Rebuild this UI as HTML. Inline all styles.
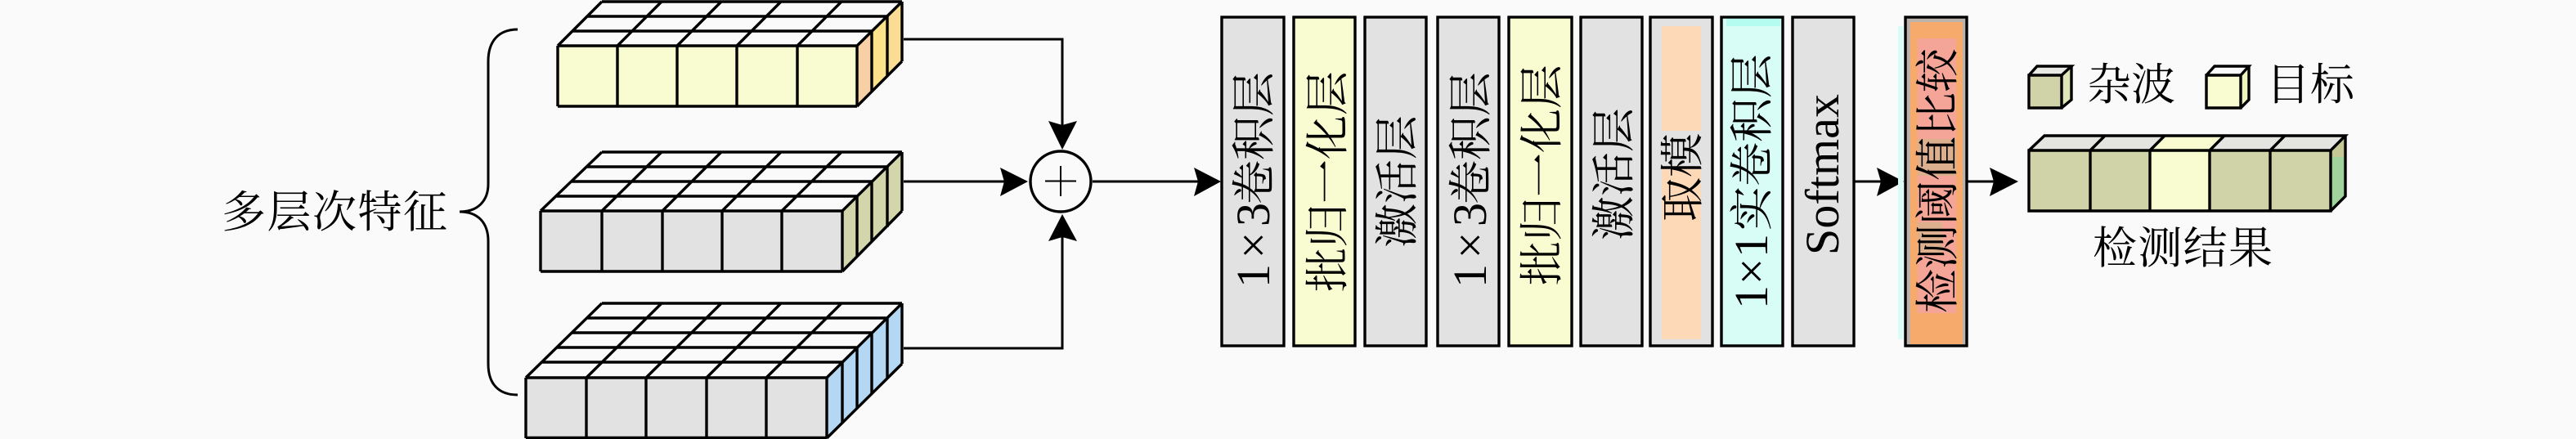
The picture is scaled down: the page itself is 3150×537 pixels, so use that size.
<!DOCTYPE html>
<html>
<head>
<meta charset="utf-8">
<style>
html,body{margin:0;padding:0;background:#fafafa;}
svg{display:block;}
text{fill:#000;}
.c{font-family:"Liberation Serif","Noto Serif CJK SC",serif;font-size:54px;}
.l{font-family:"Liberation Serif",serif;font-size:58px;}
.s{fill:none;stroke:#000;stroke-width:3.4;}
.t{fill:none;stroke:#000;stroke-width:3;}
</style>
</head>
<body>
<svg width="3150" height="537" viewBox="0 0 3150 537" xmlns="http://www.w3.org/2000/svg">
<rect width="3150" height="537" fill="#fafafa"/>

<!-- brace + label -->
<path class="t" d="M633,36 C610,36 597,50 597,75 L597,225 C597,245 585,259 562,259 C585,259 597,273 597,295 L597,445 C597,470 610,483 633,483"/>
<text class="c" x="271" y="278" textLength="276">多层次特征</text>

<!-- block 1 -->
<rect x="682" y="56" width="366" height="74" fill="#f8fcd0"/>
<polygon points="1048,56 1066,38 1066,112 1048,130" fill="#f8d0a6"/>
<polygon points="1066,38 1085,20 1085,94 1066,112" fill="#fde28c"/>
<polygon points="1085,20 1103,2 1103,75 1085,94" fill="#fbdc94"/>
<path class="s" d="M736,2H1103 M718,20H1085 M700,38H1066 M682,56H1048 M682,130H1048 M682,56V130 M755,56V130 M828,56V130 M901,56V130 M975,56V130 M1048,56V130 M682,56L736,2 M755,56L809,2 M828,56L882,2 M901,56L955,2 M975,56L1029,2 M1048,56L1103,2 M1048,130L1103,75 M1103,2V75 M1066,38V112 M1085,20V94"/>

<!-- block 2 -->
<rect x="661" y="258" width="369" height="74" fill="#e2e2e2"/>
<polygon points="1030,258 1103,186 1103,258 1030,332" fill="#d3d6aa"/>
<path class="s" d="M736,186H1103 M718,204H1085 M699,222H1066 M680,240H1048 M661,258H1030 M661,332H1030 M661,258V332 M736,258V332 M810,258V332 M883,258V332 M956,258V332 M1030,258V332 M661,258L736,186 M736,258L809,186 M810,258L882,186 M883,258L955,186 M956,258L1029,186 M1030,258L1103,186 M1030,332L1103,258 M1103,186V258 M1048,240V314 M1066,222V296 M1085,204V278"/>

<!-- block 3 -->
<rect x="643" y="462" width="368" height="74" fill="#e2e2e2"/>
<polygon points="1011,462 1103,371 1103,445 1011,536" fill="#b4d8f3"/>
<path class="s" d="M736,371H1103 M717,389H1085 M699,407H1066 M680,425H1048 M662,443H1030 M643,462H1011 M643,535.5H1011 M643,462V536 M717,462V536 M790,462V536 M864,462V536 M937,462V536 M1011,462V536 M643,462L736,371 M717,462L809,371 M790,462L882,371 M864,462L955,371 M937,462L1029,371 M1011,462L1103,371 M1011,536L1103,445 M1103,371V445 M1030,443V517 M1048,425V499 M1066,407V481 M1085,389V463"/>

<!-- connectors -->
<path class="t" d="M1105,48H1299V160 M1105,222H1232 M1336,222H1470 M1105,426H1299V285 M2267,222H2305 M2405,222H2445"/>
<circle cx="1297" cy="222" r="37" fill="#fafafa" stroke="#000" stroke-width="3.4"/>
<path d="M1278,221.500H1316 M1297,203V240" stroke="#000" stroke-width="2" fill="none"/>

<!-- arrowheads -->
<polygon points="1299,183 1282,148 1299,153 1317,148" fill="#000"/>
<polygon points="1257,222 1223,205 1228,222 1223,240" fill="#000"/>
<polygon points="1299,262 1282,295 1299,290 1317,295" fill="#000"/>
<polygon points="1493,222 1460,205 1465,222 1460,240" fill="#000"/>
<polygon points="2328,222 2295,205 2300,222 2295,240" fill="#000"/>
<polygon points="2468,222 2433,205 2438,222 2433,240" fill="#000"/>

<!-- bars -->
<g stroke="#000" stroke-width="3.4">
<rect x="1494" y="21" width="76" height="402" fill="#e2e2e2"/>
<rect x="1582" y="21" width="75" height="402" fill="#f8fcd0"/>
<rect x="1669" y="21" width="75" height="402" fill="#e2e2e2"/>
<rect x="1758" y="21" width="75" height="402" fill="#e2e2e2"/>
<rect x="1845" y="21" width="77" height="402" fill="#f8fcd0"/>
<rect x="1933" y="21" width="75" height="402" fill="#e2e2e2"/>
<rect x="2018" y="21" width="76" height="402" fill="#e2e2e2"/>
<rect x="2105" y="21" width="75" height="402" fill="#d8fdf6"/>
<rect x="2192" y="21" width="75" height="402" fill="#e2e2e2"/>
<rect x="2330" y="21" width="75" height="402" fill="#bdb3ad"/>
</g>
<rect x="2032" y="32" width="48" height="383" fill="#fdd9b8"/>
<rect x="2032" y="160" width="56" height="47" fill="#e2e2e2"/>
<rect x="2111" y="23" width="66" height="9" fill="#b4fcf0"/>
<rect x="2321" y="32" width="6" height="383" fill="#d8fdf6"/>
<rect x="2336" y="27" width="64" height="394" fill="#f6aa6b"/>
<rect x="2345" y="47" width="47" height="336" fill="#f5a598"/>
<rect x="2345" y="170" width="47" height="45" fill="#dcb08e"/>
<rect x="2345" y="272" width="30" height="40" fill="#dcb08e"/>

<!-- bar labels -->
<text class="l" transform="translate(1552,352) rotate(-90)" textLength="104">1×3</text>
<text class="c" transform="translate(1552,250) rotate(-90)">卷积层</text>
<text class="c" transform="translate(1642,357) rotate(-90)">批归一化层</text>
<text class="c" transform="translate(1727,303) rotate(-90)">激活层</text>
<text class="l" transform="translate(1817,352) rotate(-90)" textLength="104">1×3</text>
<text class="c" transform="translate(1817,250) rotate(-90)">卷积层</text>
<text class="c" transform="translate(1904,349) rotate(-90)">批归一化层</text>
<text class="c" transform="translate(1992,294) rotate(-90)">激活层</text>
<text class="c" transform="translate(2076,271) rotate(-90)">取模</text>
<text class="l" transform="translate(2161,378) rotate(-90)" textLength="92">1×1</text>
<text class="c" transform="translate(2161,282) rotate(-90)">实卷积层</text>
<text class="l" transform="translate(2248,312) rotate(-90)" textLength="197">Softmax</text>
<text class="c" transform="translate(2388,383) rotate(-90)">检测阈值比较</text>

<!-- legend -->
<polygon points="2481,92 2491,81 2533,81 2521,92" fill="#e8e8e4"/>
<rect x="2481" y="92" width="40" height="40" fill="#d0d3a8"/>
<polygon points="2521,92 2533,81 2533,122 2521,132" fill="#dfe5b8"/>
<path class="s" d="M2481,92H2521V132H2481Z M2481,92L2491,81H2533L2521,92 M2533,81V122L2521,132"/>
<polygon points="2698,92 2708,81 2750,81 2740,92" fill="#fafafa"/>
<rect x="2698" y="92" width="42" height="40" fill="#f8fcd0"/>
<polygon points="2740,92 2750,81 2750,122 2740,132" fill="#f0f5c0"/>
<path class="s" d="M2698,92H2740V132H2698Z M2698,92L2708,81H2750L2740,92 M2750,81V122L2740,132"/>
<text class="c" x="2552" y="122" textLength="108">杂波</text>
<text class="c" x="2771" y="122" textLength="108">目标</text>

<!-- result -->
<polygon points="2481,184 2500,166 2868,166 2850,184" fill="#e4e4e0"/>
<polygon points="2629,184 2647,166 2720,166 2702,184" fill="#f8fcd0"/>
<rect x="2481" y="184" width="369" height="74" fill="#d0d3a8"/>
<rect x="2629" y="184" width="73" height="74" fill="#f8fcd0"/>
<polygon points="2850,184 2868,166 2868,240 2850,258" fill="#a0d49c"/>
<polygon points="2850,184 2868,166 2868,192 2850,192" fill="#c5c794"/>
<path class="s" d="M2481,184H2850V258H2481Z M2556,184V258 M2629,184V258 M2702,184V258 M2776,184V258 M2481,184L2500,166H2868L2850,184 M2556,184L2574,166 M2629,184L2647,166 M2702,184L2720,166 M2776,184L2794,166 M2868,166V240L2850,258"/>
<text class="c" x="2559" y="322" textLength="220">检测结果</text>
</svg>
</body>
</html>
